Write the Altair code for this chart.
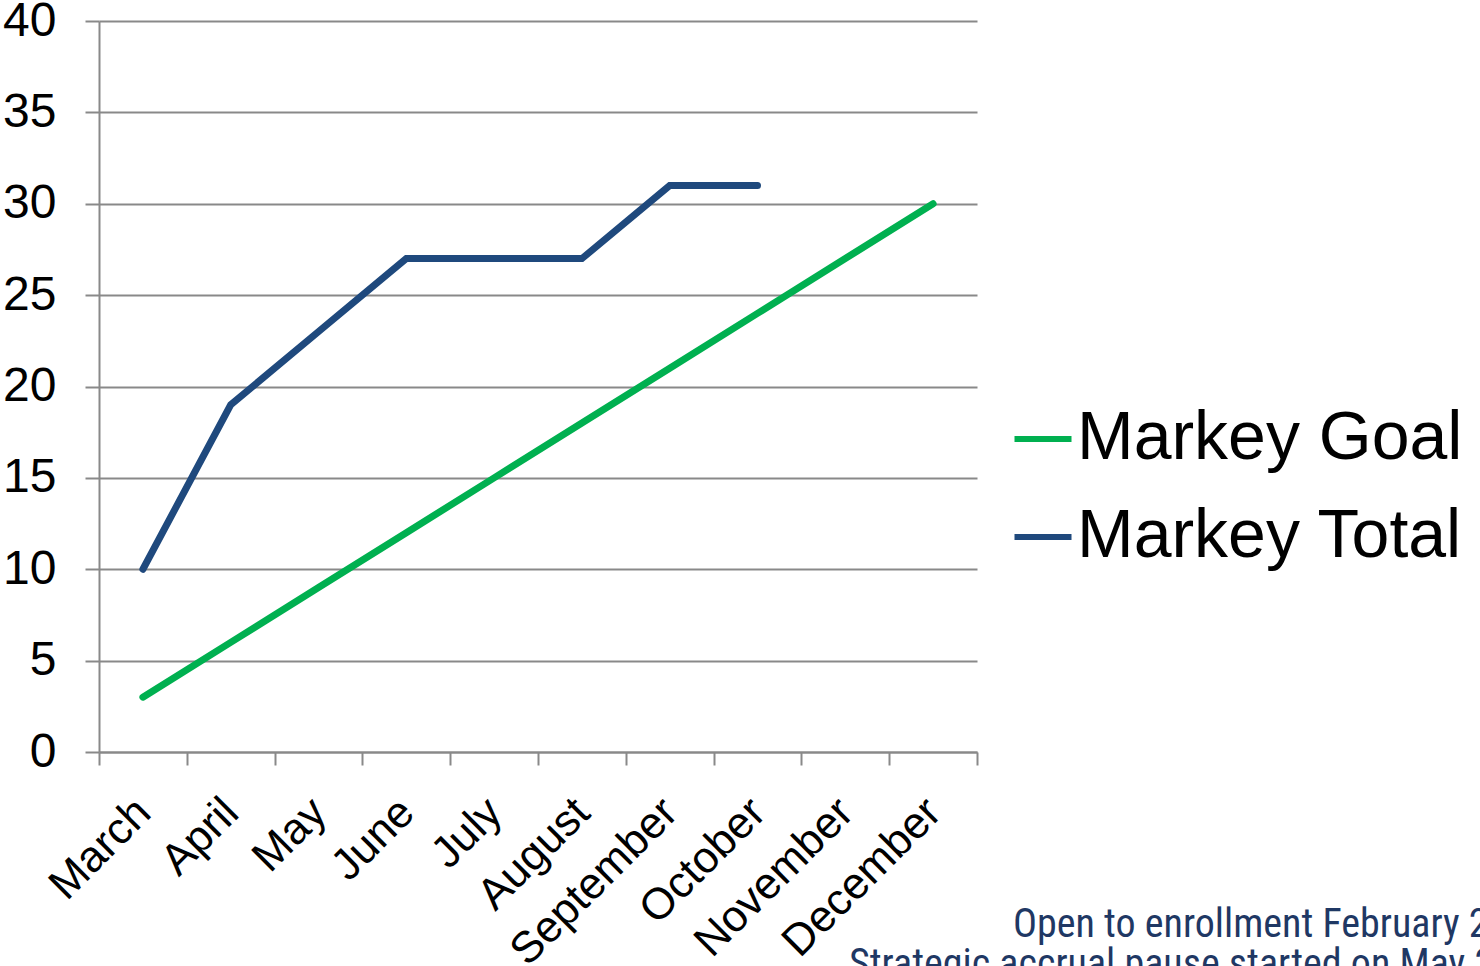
import altair as alt
import pandas as pd

months = ["March", "April", "May", "June", "July", "August",
          "September", "October", "November", "December"]
goal = [3, 6, 9, 12, 15, 18, 21, 24, 27, 30]
total = [10, 19, 23, 27, 27, 27, 31, 31, None, None]
series = ["Markey Goal", "Markey Total"]
colors = ["#00B050", "#1F497D"]
notes = ["Open to enrollment February 2", "Strategic accrual pause started on May 2"]
note_x = [914, 750]
note_y = [916, 956]

rows = []
for m, g in zip(months, goal):
    rows.append({"month": m, "value": g, "series": series[0]})
for m, t in zip(months, total):
    if t is not None:
        rows.append({"month": m, "value": t, "series": series[1]})
df = pd.DataFrame(rows)

W, H = 878, 731
FONT = "Liberation Sans"

lines = alt.Chart(df).mark_line(strokeWidth=7, strokeCap="round", strokeJoin="miter").encode(
    x=alt.X("month:N", sort=months,
            scale=alt.Scale(type="band", domain=months, paddingInner=0, paddingOuter=0),
            axis=alt.Axis(title=None, labelAngle=-45, labelFontSize=44, labelFont=FONT,
                          labelColor="#000000", tickBand="extent", tickSize=13,
                          tickColor="#898989", tickWidth=2, domainColor="#898989",
                          domainWidth=2, labelPadding=25, labelOffset=-15, grid=False,
                          labelAlign="right", labelBaseline="top", labelLimit=0)),
    y=alt.Y("value:Q", scale=alt.Scale(domain=[0, 40], nice=False),
            axis=alt.Axis(title=None, values=[0, 5, 10, 15, 20, 25, 30, 35, 40],
                          labelFontSize=48, labelFont=FONT, labelColor="#000000",
                          tickSize=14, tickColor="#898989", tickWidth=2,
                          domainColor="#898989", domainWidth=2, labelPadding=29,
                          grid=True, gridColor="#898989", gridWidth=2)),
    color=alt.Color("series:N", scale=alt.Scale(domain=series, range=colors),
                    legend=alt.Legend(title=None, orient="none", legendX=910, legendY=384,
                                      labelFontSize=68, labelFont=FONT, labelColor="#000000",
                                      symbolType="stroke", symbolSize=3249,
                                      symbolStrokeWidth=6, labelOffset=0,
                                      rowPadding=30, labelLimit=600)),
)

notes_df = pd.DataFrame({"text": notes, "px": note_x, "py": note_y})
text = alt.Chart(notes_df).mark_text(
    align="left", baseline="alphabetic", fontSize=40,
    font="Liberation Sans Narrow, Roboto Condensed, Liberation Sans", color="#1F3864"
).encode(x=alt.X("px:Q", scale=None), y=alt.Y("py:Q", scale=None), text="text:N")

chart = alt.layer(lines, text).properties(
    width=W, height=H,
    autosize=alt.AutoSizeParams(type="none"),
    padding={"left": 99, "top": 21, "right": 503, "bottom": 214},
).configure(background="white").configure_view(stroke=None)

chart.save("out.html", embed_options={"renderer": "svg", "actions": False})
